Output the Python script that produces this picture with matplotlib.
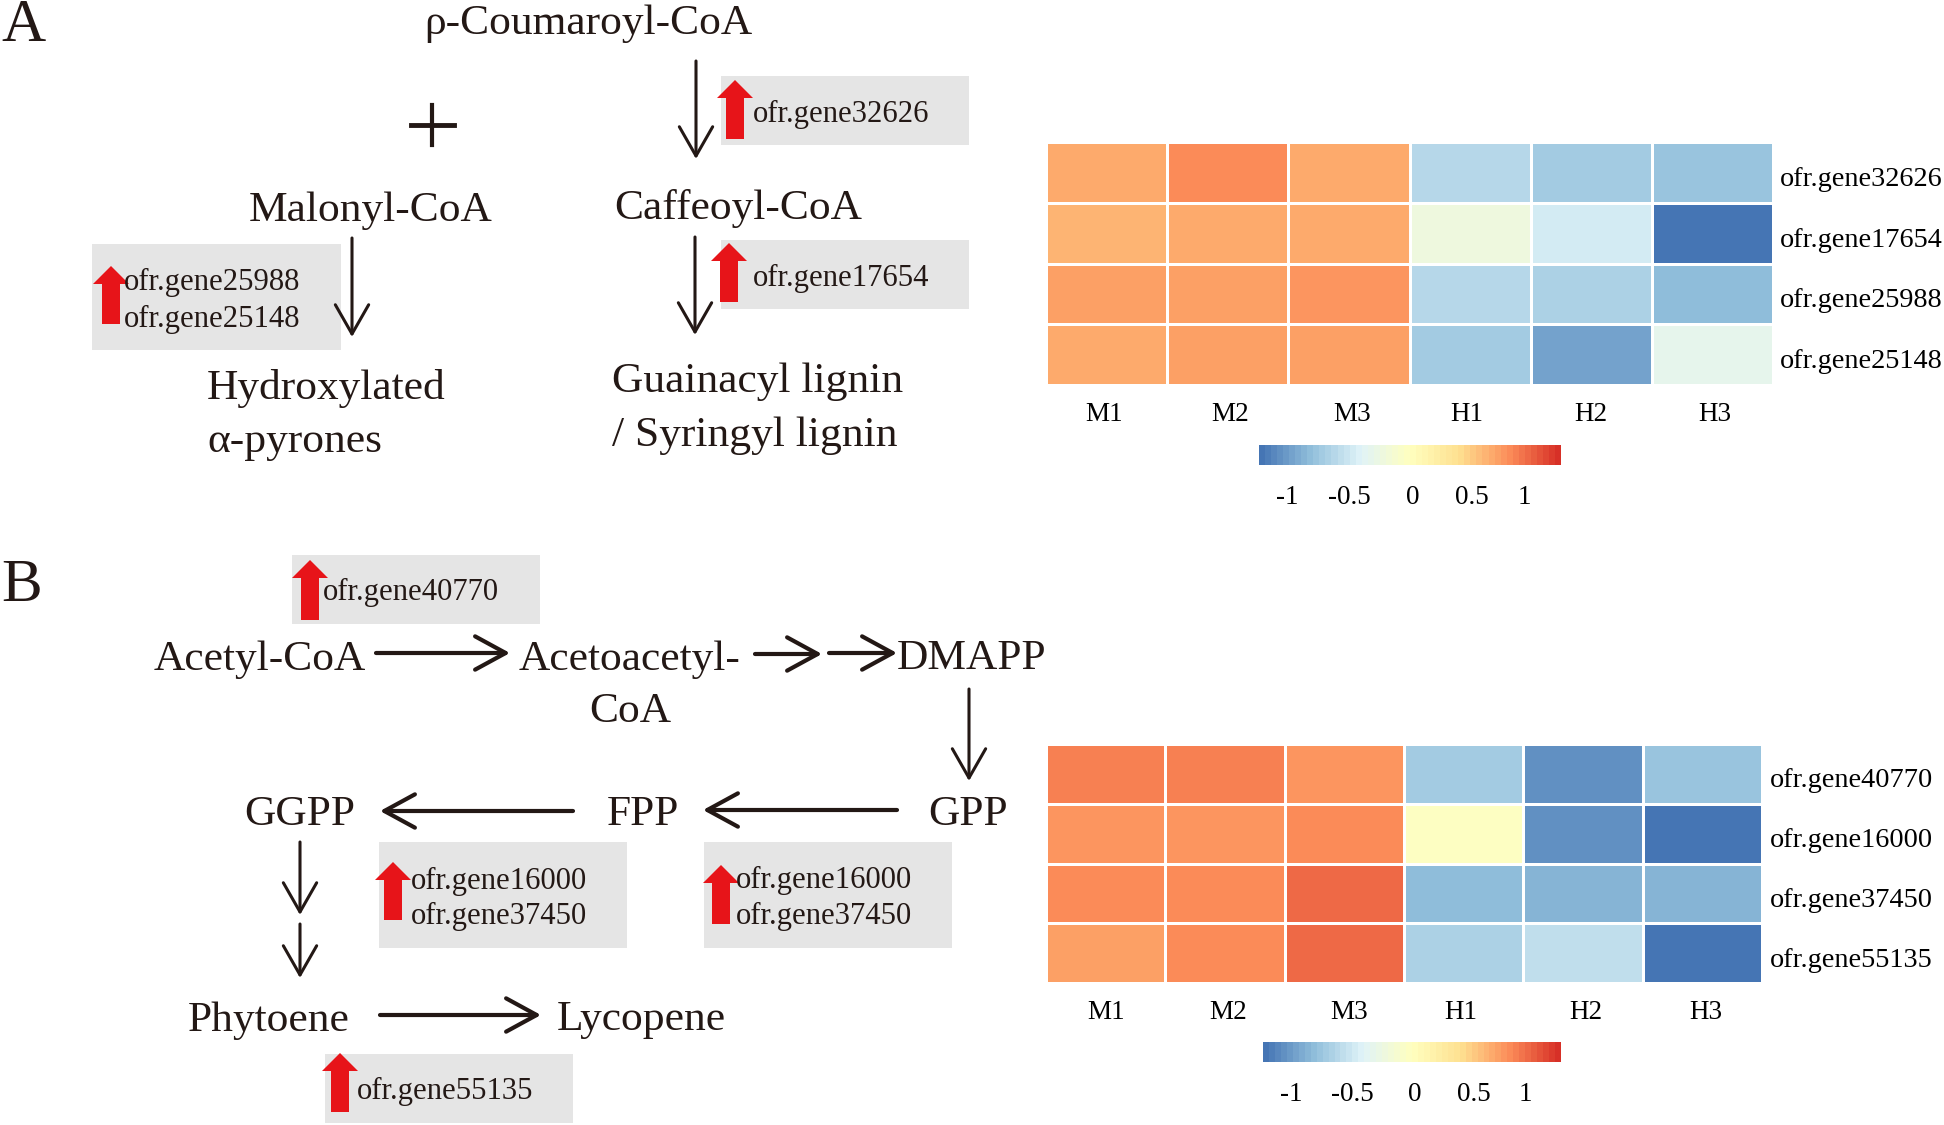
import numpy as np
import matplotlib
matplotlib.use("Agg")
import matplotlib.pyplot as plt
from matplotlib.colors import LinearSegmentedColormap, Normalize
from matplotlib.cm import ScalarMappable
from matplotlib.patches import Rectangle

plt.rcParams['font.family'] = ['Liberation Serif', 'DejaVu Serif']

W, H = 1944, 1125

samples = ["M1", "M2", "M3", "H1", "H2", "H3"]
genes_a = ["ofr.gene32626", "ofr.gene17654", "ofr.gene25988", "ofr.gene25148"]
genes_b = ["ofr.gene40770", "ofr.gene16000", "ofr.gene37450", "ofr.gene55135"]

values_a = [
    [0.66, 0.83, 0.68, -0.61, -0.74, -0.76],
    [0.61, 0.69, 0.66, -0.21, -0.46, -1.22],
    [0.71, 0.72, 0.75, -0.63, -0.69, -0.82],
    [0.65, 0.74, 0.73, -0.74, -0.99, -0.31],
]
values_b = [
    [0.89, 0.89, 0.79, -0.71, -1.05, -0.78],
    [0.75, 0.79, 0.82, -0.04, -1.07, -1.22],
    [0.82, 0.84, 0.98, -0.83, -0.89, -0.87],
    [0.72, 0.84, 0.95, -0.67, -0.58, -1.24],
]
cbar_labels = ["-1", "-0.5", "0", "0.5", "1"]

palette = ["#4575B4", "#91BFDB", "#E0F3F8", "#FFFFBF", "#FEE090", "#FC8D59", "#D73027"]
cmap = LinearSegmentedColormap.from_list("rdylbu", palette, N=50)
norm = Normalize(-1.25, 1.25)

INK = "#231815"
GREY = "#E5E5E5"
RED = "#E71419"

fig = plt.figure(figsize=(W / 100, H / 100), dpi=100, facecolor="white")

# whole figure as a pixel canvas for the pathway drawing
bg = fig.add_axes([0, 0, 1, 1])
bg.set_xlim(0, W)
bg.set_ylim(H, 0)
bg.axis("off")


def px_axes(x0, y0, x1, y1):
    return fig.add_axes([x0 / W, 1 - y1 / H, (x1 - x0) / W, (y1 - y0) / H])


def name(x, y, s, size=31.3, ha="left"):
    bg.text(x, y + 6.5, s, fontsize=size, color=INK, ha=ha, va="center")


def arrow(x0, y0, x1, y1, lw=2.2, head=(21, 12)):
    bg.annotate("", xy=(x1, y1), xytext=(x0, y0),
                arrowprops=dict(arrowstyle="->,head_length=%g,head_width=%g" % head,
                                mutation_scale=1, lw=lw, color=INK,
                                shrinkA=0, shrinkB=0))


def gene_box(x0, y0, x1, y1, ax_x, top, bottom, text_x, labels):
    bg.add_patch(Rectangle((x0, y0), x1 - x0, y1 - y0, color=GREY, lw=0, zorder=1))
    bg.arrow(ax_x, bottom, 0, top - bottom, width=18, head_width=36, head_length=18,
             length_includes_head=True, color=RED, lw=0, zorder=2)
    for ty, s in labels:
        bg.text(text_x, ty + 2.5, s, fontsize=22.1, color=INK, va="center", zorder=3)


def heatmap(values, genes, box, bar, label_pad, x_nudge):
    ax = px_axes(*box)
    ax.pcolormesh(np.array(values), cmap=cmap, norm=norm, edgecolors="white", linewidth=1)
    ax.set_ylim(len(genes), 0)
    ax.set_xticks(np.arange(len(samples)) + 0.5 + np.array(x_nudge), samples, fontsize=19.5)
    ax.set_yticks(np.arange(len(genes)) + 0.565, genes, fontsize=20.3)
    ax.yaxis.tick_right()
    ax.tick_params(axis="x", length=0, pad=12)
    ax.tick_params(axis="y", length=0, pad=label_pad)
    for sp in ax.spines.values():
        sp.set_visible(False)

    cax = px_axes(*bar)
    cb = fig.colorbar(ScalarMappable(norm=norm, cmap=cmap), cax=cax, orientation="horizontal")
    # labels in the original do not sit evenly under the bar
    cb.set_ticks([-1.015, -0.5, 0.025, 0.515, 0.95], labels=cbar_labels)
    cb.ax.tick_params(length=0, pad=14.5, labelsize=19.5)
    cb.outline.set_visible(False)


# panel A
name(1, 20, "A", size=44)
name(424, 17, "ρ-Coumaroyl-CoA")
name(249, 204, "Malonyl-CoA")
name(614, 202, "Caffeoyl-CoA")
name(207, 382, "Hydroxylated")
name(207, 435, "α-pyrones")
name(612, 375, "Guainacyl lignin")
name(612, 429, "/ Syringyl lignin")
bg.plot([411, 454], [125, 125], color=INK, lw=3.5)
bg.plot([432, 432], [105, 145], color=INK, lw=3)

gene_box(721, 76, 969, 145, 735, 80, 139, 753, [(112, genes_a[0])])
gene_box(721, 240, 969, 309, 729, 243, 302, 753, [(276, genes_a[1])])
gene_box(92, 244, 341, 350, 111, 266, 324, 124, [(280, genes_a[2]), (317, genes_a[3])])
arrow(696, 61, 696, 159)
arrow(695, 237, 695, 335)
arrow(352, 238, 352, 337)

# panel B
name(1, 580, "B", size=44)
name(154, 653, "Acetyl-CoA")
name(519, 653, "Acetoacetyl-")
name(630, 705, "CoA", ha="center")
name(897, 652, "DMAPP")
name(968, 808, "GPP", ha="center")
name(643, 808, "FPP", ha="center")
name(300, 808, "GGPP", ha="center")
name(188, 1014, "Phytoene")
name(557, 1013, "Lycopene")

gene_box(292, 555, 540, 624, 310, 560, 620, 323, [(590, genes_b[0])])
gene_box(379, 842, 627, 948, 393, 862, 920, 411, [(879, genes_b[1]), (914, genes_b[2])])
gene_box(704, 842, 952, 948, 721, 865, 924, 736, [(878, genes_b[1]), (914, genes_b[2])])
gene_box(325, 1054, 573, 1123, 340, 1053, 1112, 357, [(1089, genes_b[3])])

thick = dict(lw=3, head=(22, 12))
arrow(376, 653, 510, 653, **thick)
arrow(755, 654, 822, 654, **thick)
arrow(829, 653, 897, 653, **thick)
arrow(897, 810, 703, 810, **thick)
arrow(573, 811, 380, 811, **thick)
arrow(380, 1015, 541, 1015, **thick)
arrow(969, 689, 969, 781)
arrow(300, 842, 300, 915)
arrow(300, 924, 300, 978)

heatmap(values_a, genes_a, (1046, 142, 1773, 385), (1259, 445, 1561, 465), 5,
        [-0.02, 0.02, 0.03, -0.03, 0, 0.02])
heatmap(values_b, genes_b, (1046, 744, 1762, 983), (1263, 1042, 1561, 1062), 6,
        [0, 0.03, 0.04, -0.02, 0.02, 0.03])

fig.savefig("out.png", dpi=100)
